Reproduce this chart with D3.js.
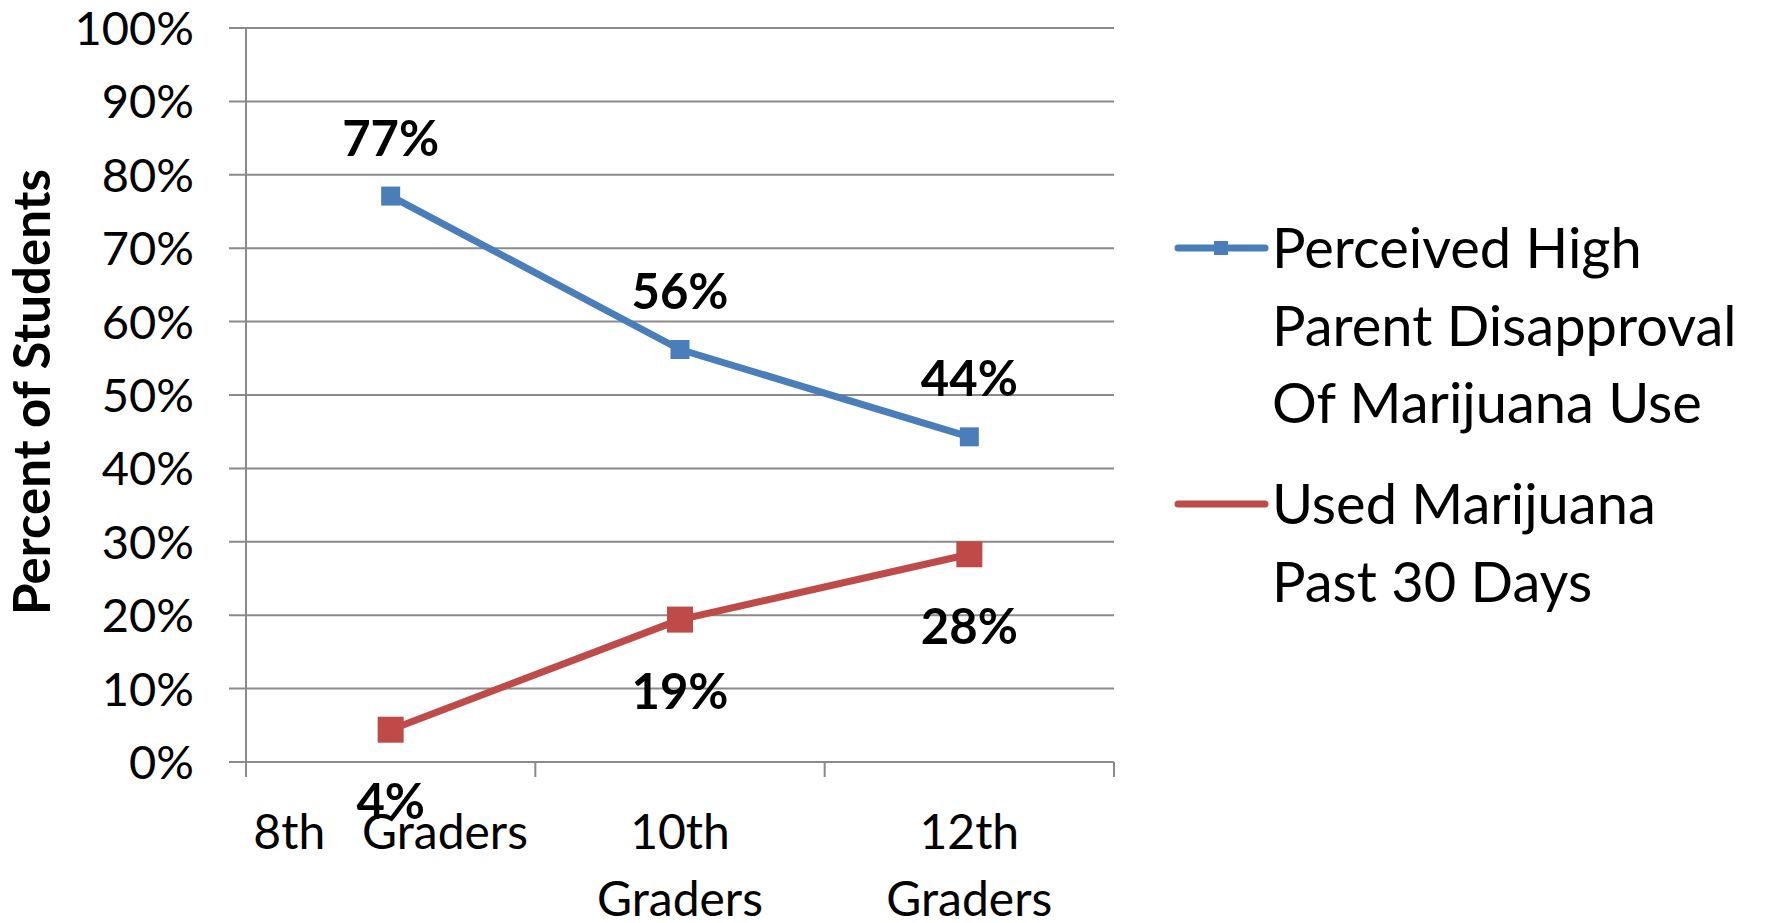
<!DOCTYPE html>
<html>
<head>
<meta charset="utf-8">
<script src="https://cdn.jsdelivr.net/npm/d3@7"></script>
<style>
  html, body { margin: 0; padding: 0; background: #fff; }
  svg { display: block; }
  text { font-family: Lato, "Open Sans", sans-serif; fill: #000; }
</style>
</head>
<body>
<svg id="chart" width="1768" height="923"></svg>
<script>
// ---- data ----
const categories = ["8th Graders", "10th Graders", "12th Graders"];
const categoryLabelLines = [["8th\u00A0\u00A0 Graders"], ["10th", "Graders"], ["12th", "Graders"]];
const seriesNames = ["Perceived High Parent Disapproval Of Marijuana Use", "Used Marijuana Past 30 Days"];
const legendLines = [["Perceived High", "Parent Disapproval", "Of Marijuana Use"], ["Used Marijuana", "Past 30 Days"]];
const disapprovalValues = [0.771, 0.562, 0.443];
const usedValues = [0.044, 0.194, 0.283];
const yTicks = [0, 0.1, 0.2, 0.3, 0.4, 0.5, 0.6, 0.7, 0.8, 0.9, 1.0];
const yAxisTitle = "Percent of Students";

const svg = d3.select("#chart");
const plot = { left: 246, right: 1114, top: 28, bottom: 762 };

const x = d3.scaleBand().domain(categories).range([plot.left, plot.right]).paddingInner(0).paddingOuter(0);
const y = d3.scaleLinear().domain([0, 1]).range([plot.bottom, plot.top]);
const fmt = d3.format(".0%");

const gridColor = "#8a8a8a";

// gridlines
svg.append("g").selectAll("line").data(yTicks).join("line")
  .attr("x1", plot.left - 17).attr("x2", plot.right)
  .attr("y1", d => y(d)).attr("y2", d => y(d))
  .attr("stroke", gridColor).attr("stroke-width", 2);

// y axis line
svg.append("line").attr("x1", plot.left).attr("x2", plot.left)
  .attr("y1", plot.top).attr("y2", plot.bottom)
  .attr("stroke", gridColor).attr("stroke-width", 2);

// x axis ticks at band edges
const edges = categories.map(c => x(c)).concat([x(categories[categories.length - 1]) + x.bandwidth()]);
svg.append("g").selectAll("line").data(edges).join("line")
  .attr("x1", d => d).attr("x2", d => d)
  .attr("y1", plot.bottom).attr("y2", plot.bottom + 15)
  .attr("stroke", gridColor).attr("stroke-width", 2);

// y tick labels
svg.append("g").selectAll("text").data(yTicks).join("text")
  .attr("x", 194).attr("y", d => y(d))
  .attr("dy", "0.36em")
  .attr("text-anchor", "end")
  .style("font-size", "47px")
  .text(d => fmt(d));

// x labels
const xl = svg.append("g").selectAll("text").data(categories).join("text")
  .attr("x", d => x(d) + x.bandwidth() / 2)
  .attr("y", 849)
  .attr("text-anchor", "middle")
  .style("font-size", "48px");
xl.each(function (d, i) {
  const t = d3.select(this);
  categoryLabelLines[i].forEach((ln, j) => {
    t.append("tspan").attr("x", x(d) + x.bandwidth() / 2).attr("dy", j === 0 ? 0 : 67).text(ln);
  });
});

// y axis title
svg.append("text")
  .attr("transform", `translate(50, ${392}) rotate(-90)`)
  .attr("text-anchor", "middle")
  .style("font-size", "51px").style("font-weight", "bold")
  .text(yAxisTitle);

const series = [
  { name: seriesNames[0], values: disapprovalValues, color: "#4a7ebb", marker: 19, labelDy: -58 },
  { name: seriesNames[1], values: usedValues, color: "#be4b48", marker: 26, labelDy: 72 }
];

const line = d3.line().x((d, i) => x(categories[i]) + x.bandwidth() / 2).y(d => y(d));

series.forEach(s => {
  svg.append("path").datum(s.values)
    .attr("d", line).attr("fill", "none")
    .attr("stroke", s.color).attr("stroke-width", 7).attr("stroke-linejoin", "round");
  svg.append("g").selectAll("rect").data(s.values).join("rect")
    .attr("x", (d, i) => x(categories[i]) + x.bandwidth() / 2 - s.marker / 2)
    .attr("y", d => y(d) - s.marker / 2)
    .attr("width", s.marker).attr("height", s.marker)
    .attr("fill", s.color);
  svg.append("g").selectAll("text").data(s.values).join("text")
    .attr("x", (d, i) => x(categories[i]) + x.bandwidth() / 2)
    .attr("y", d => y(d) + s.labelDy)
    .attr("dy", "0.36em")
    .attr("text-anchor", "middle")
    .style("font-size", "49px").style("font-weight", "bold")
    .text(d => fmt(d));
});

// legend
const legendX = 1178, legendTextX = 1272;
const legendTop = [248, 504];
series.forEach((s, k) => {
  const g = svg.append("g");
  g.append("line").attr("x1", legendX).attr("x2", legendX + 87)
    .attr("y1", legendTop[k]).attr("y2", legendTop[k])
    .attr("stroke", s.color).attr("stroke-width", 7).attr("stroke-linecap", "round");
  if (k === 0) {
    g.append("rect").attr("x", legendX + 43 - 7).attr("y", legendTop[k] - 7)
      .attr("width", 14).attr("height", 14).attr("fill", s.color);
  }
  const t = g.append("text").attr("x", legendTextX).attr("y", legendTop[k])
    .style("font-size", "56px");
  legendLines[k].forEach((ln, j) => {
    t.append("tspan").attr("x", legendTextX).attr("dy", j === 0 ? "0.36em" : 77.5).text(ln);
  });
});
</script>
</body>
</html>
